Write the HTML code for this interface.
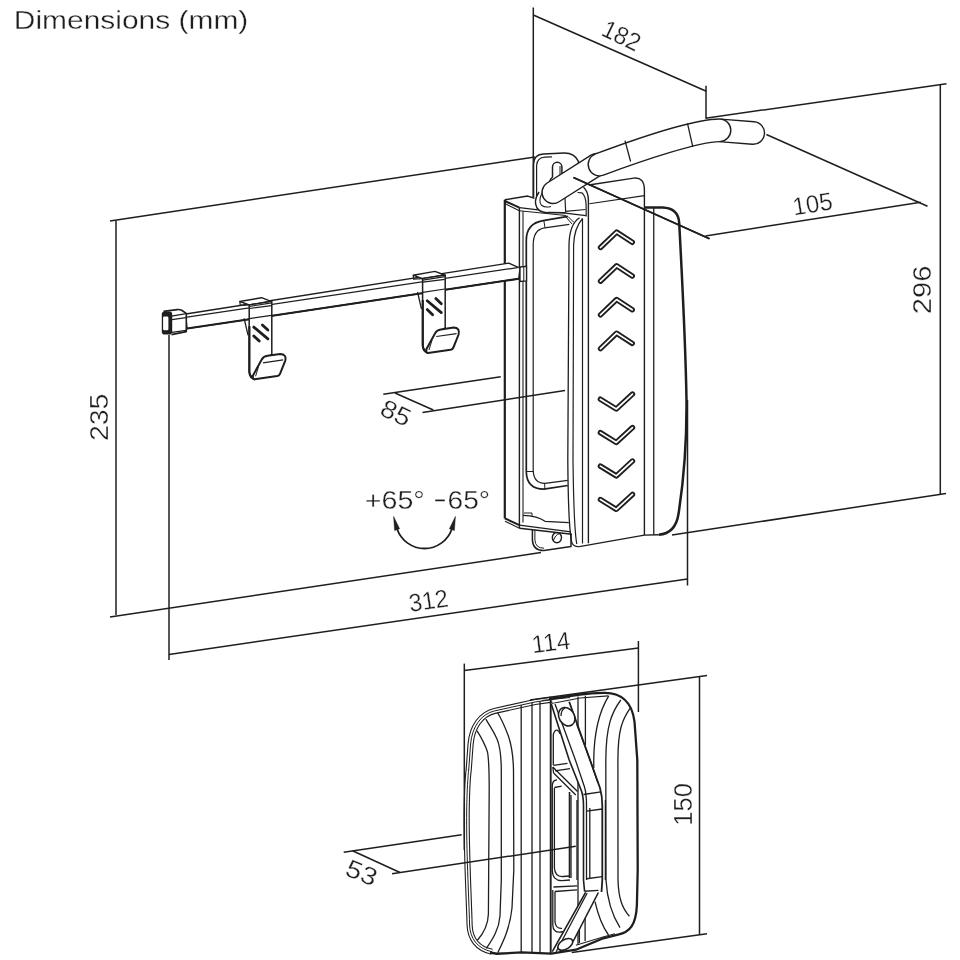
<!DOCTYPE html>
<html><head><meta charset="utf-8"><style>
html,body{margin:0;padding:0;background:#fff;width:960px;height:960px;overflow:hidden}
svg{display:block;filter:grayscale(1)}
text{font-family:"Liberation Sans",sans-serif;fill:#1e1e1e;stroke:#fff;stroke-width:0.3px}
</style></head><body>
<svg width="960" height="960" viewBox="0 0 960 960">
<rect width="960" height="960" fill="#fff"/>
<text x="13.8" y="29.2" font-size="25" textLength="234.5" lengthAdjust="spacingAndGlyphs">Dimensions (mm)</text>

<!-- MOUNT -->
<defs>
  <g id="chev">
<path transform="translate(616.6,232.10)" d="M-16.1 15.4 L0 0 L15.65 10.2"/>
<path transform="translate(616.6,265.80)" d="M-16.1 15.4 L0 0 L15.65 10.2"/>
<path transform="translate(616.6,299.50)" d="M-16.1 15.4 L0 0 L15.65 10.2"/>
<path transform="translate(616.6,333.20)" d="M-16.1 15.4 L0 0 L15.65 10.2"/>
<path transform="translate(616.3,409.00)" d="M-15.9 -9.8 L0 0 L16.2 -14.9"/>
<path transform="translate(616.3,442.45)" d="M-15.9 -9.8 L0 0 L16.2 -14.9"/>
<path transform="translate(616.3,475.90)" d="M-15.9 -9.8 L0 0 L16.2 -14.9"/>
<path transform="translate(616.3,509.35)" d="M-15.9 -9.8 L0 0 L16.2 -14.9"/>
  </g>
</defs>
<g id="mount" fill="none" stroke="#1e1e1e" stroke-width="1.4" stroke-linejoin="round">
  <!-- wall plate -->
  <path d="M533.5 197 L533.5 164 Q533.8 154.5 543.5 154 L564 153 Q574.5 152.8 578.5 161.5 L578.5 175" fill="#fff" stroke-width="1.5"/>
  <path d="M536.6 197 L536.6 165.5 Q537.2 157.6 545 157.2 L552 156.8" stroke-width="1.2"/>
  <path d="M549 183 Q550.5 178.5 552.5 177 L552.5 167 A4.7 4.7 0 0 1 561.9 167 L561.9 178" stroke-width="1.5"/>
  <path d="M560 166 L560 177" stroke-width="1"/>
  <!-- lower plate with hole -->
  <path d="M532.4 528 L532.4 540 Q533 550.8 544 550.6 L571 546.5 L571 530" fill="#fff" stroke-width="1.5"/>
  <path d="M534.9 529 L534.9 540 Q535.5 548.3 544 548.2" stroke-width="1"/>
  <ellipse cx="556.9" cy="537.6" rx="4.6" ry="5.1" stroke-width="1.4"/>
  <path d="M553.5 540.5 Q555 535 559.5 533.6" stroke-width="1"/>
  <!-- bracket body -->
  <path d="M504.8 199.8 L527.7 196.1 L540 199 L560 202 L586 216 L586 540 L572 534.2 L519.4 528.2 L504.8 521 Z" fill="#fff" stroke="none"/>
  <path d="M504.8 199.8 L504.8 518.5" stroke-width="2.2"/>
  <path d="M504.8 199.8 L527.7 196.1 L534.5 198.2" stroke-width="1.5"/>
  <path d="M504.8 201 L519.4 207.6" stroke-width="2"/>
  <path d="M504.8 203.6 L519.4 210.7" stroke-width="1.1"/>
  <path d="M519.4 207.6 L586 215.6" stroke-width="1.3"/>
  <path d="M519.4 210.7 L566 215.5" stroke-width="1.1"/>
  <path d="M519.4 207.6 L519.4 528.2"/>
  <path d="M523 211 L523 522.5" stroke-width="1.1"/>
  <path d="M504.8 518.3 L519.4 525.1" stroke-width="2"/>
  <path d="M505 521.2 L519.4 528.2" stroke-width="1.1"/>
  <path d="M519.4 525.1 L570.9 531.9"/>
  <path d="M519.4 528.2 L572 534.3"/>
  <path d="M523 515.3 Q538 515.8 545 521.3 L568.8 522.6" stroke-width="1.2"/>
  <path d="M524 513 L532 513 L532 517" stroke-width="1"/>
  <!-- inner C frame -->
  <path d="M567.9 216.4 L543.1 220.7 Q526.4 223.5 526.3 240 L526.3 472 Q526.8 489 543.8 489.2 L567.8 485.5" stroke-width="1.7"/>
  <path d="M569.4 224.4 L544.6 227.8 Q533.2 229.5 533.2 245 L533.2 470 Q533.5 483.5 545 483.4 L567.8 480.3" stroke-width="1.2"/>
  <path d="M543.9 221 L545 227.6 M526.8 471.5 L533 471.5 M544.6 483.5 L544.9 489" stroke-width="1"/>
  <path d="M566 217 L572 224 M568 216.5 L574 222.5" stroke-width="1"/>
  <!-- rail (curved strip) -->
  <path d="M579.6 217.8 Q569.4 224 569 245 L567.8 460 Q568.3 530 572 543 Q574 547 579.3 546.6" stroke-width="1.3"/>
  <path d="M582.5 218.5 Q574.2 228 573.6 245 L573 460 Q573.8 528 576.8 544" stroke-width="1.2"/>
  <!-- panel -->
  <path d="M582.2 189.2 Q586.5 186 590 185 L633.75 178.1 Q644.4 177 644.4 190 L644.4 535.1 L579.3 546.6 L588.4 543.3 Z" fill="none" stroke="none"/>
  <path d="M583.5 187.3 Q588.2 191.5 588.4 200 L588.4 543.3" stroke-width="1.4"/>
  <path d="M577.5 192.5 L581.9 192.8 Q585.8 196 586.1 205 L586.2 216.5" stroke-width="1.2"/>
  <path d="M565.6 211.3 L585.5 209.5" stroke-width="1.2"/>
  <path d="M582.5 218.5 L582.5 543.5" stroke-width="1.2"/>
  <path d="M588.8 185 L633.75 178.1 Q644.4 176.8 644.4 190 L644.4 535.1" stroke-width="1.4"/>
  <path d="M589.4 203.75 L644.4 195.6" stroke-width="1.2"/>
  <path d="M579.3 546.6 L644.4 535.1 L658.75 534.7" stroke-width="1.4"/>
  <!-- box -->
  <path d="M653.75 207.5 L653.75 534.7" stroke-width="1.3"/>
  <path d="M645 207.5 L662.5 207.5 Q678.3 208 679.2 223 C 682 275 685.5 340 686.5 400 C 686.8 440 683 485 678.5 514 Q675.5 533.5 658.75 534.7" stroke-width="2.5"/>
  <!-- chevrons -->
  <use href="#chev" stroke="#1e1e1e" stroke-width="5.4" stroke-linecap="round" stroke-linejoin="round"/>
  <use href="#chev" stroke="#fff" stroke-width="1.7" stroke-linecap="round" stroke-linejoin="round"/>
  <!-- pivot washer -->
  <path d="M539 192 Q533 201 537 208 Q541 213 548 212.6 L565 212.8" fill="#fff" stroke-width="1.5"/>
  <path d="M542 193 Q538 201.5 541.5 205.3 Q545 208 551 206.5" stroke-width="1.1"/>
  <path d="M565 198 L565.7 212.8" stroke-width="1.2"/>
  <!-- arm -->
  <g stroke-linecap="round" fill="none">
    <path d="M723 130.6 L753.2 133" stroke="#1e1e1e" stroke-width="24"/>
    <path d="M723 130.6 L753.2 133" stroke="#fff" stroke-width="21.2"/>
    <path d="M553.1 192.4 L597 164.5" stroke="#1e1e1e" stroke-width="23.6"/>
    <path d="M553.1 192.4 L597 164.5" stroke="#fff" stroke-width="20.8"/>
    <path d="M599.5 164.5 C 639.5 149.6, 697 130.3, 719.5 130.3" stroke="#1e1e1e" stroke-width="24"/>
    <path d="M599.5 164.5 C 639.5 149.6, 697 130.3, 719.5 130.3" stroke="#fff" stroke-width="21.2"/>
  </g>
  <path d="M625 140.6 L630.6 161.5 M687.5 123.4 L692.8 146.9" stroke-width="1.3"/>
</g>
<path d="M573.5 177.5 L709.5 238.8" fill="none" stroke="#1e1e1e" stroke-width="1.5"/>

<!-- ROD + HOOKS -->
<defs>
  <g id="hook">
    <!-- back strap sliver -->
    <path d="M417.5 292 L421.5 309" fill="none" stroke="#1e1e1e" stroke-width="1.3"/>
    <!-- sleeve top face -->
    <path d="M413.1 275.2 L435 271.4 L444.5 275 L422.6 278.6 Z" fill="#fff" stroke="#1e1e1e" stroke-width="1.4" stroke-linejoin="round"/>
    <path d="M413.3 275.2 L413.6 279 L422.6 278.6" fill="none" stroke="#1e1e1e" stroke-width="1.2"/>
    <!-- strap front -->
    <path d="M422.6 278.6 L445.2 275 L445.2 328 L436 333 L427 351 Q423 350 422.6 345 Z" fill="#fff" stroke="#1e1e1e" stroke-width="1.5" stroke-linejoin="round"/>
    <path d="M422.8 300 L422.8 346 Q423.2 352 428.5 353" fill="none" stroke="#1e1e1e" stroke-width="2.2"/>
    <path d="M422.8 280.2 L444.8 276.6 M422.8 282.2 L444.8 279.3 M422.8 292.3 L444.8 289" fill="none" stroke="#1e1e1e" stroke-width="1.2"/>
    <!-- tip -->
    <path d="M428 353 L450.5 349.8 Q452.6 349.4 453.4 347.5 L458.6 334.5 Q460.3 327.8 453.5 327.6 L441 329.4 Q436.6 330 435 333.4 L426.5 349 Q425.6 352.8 428 353 Z" fill="#fff" stroke="#1e1e1e" stroke-width="2" stroke-linejoin="round"/>
    <path d="M436.3 336.5 L456.6 333.6" fill="none" stroke="#1e1e1e" stroke-width="1.2"/>
    <path d="M429 350 L432 340" fill="none" stroke="#1e1e1e" stroke-width="1"/>
    <!-- hash marks -->
    <g stroke="#1e1e1e" stroke-width="2.8" stroke-linecap="round">
      <path d="M427.2 300.8 L441.3 312.6"/>
      <path d="M435.8 298.6 L441.3 303.8"/>
      <path d="M427.2 309.6 L432.6 314.8"/>
    </g>
  </g>
</defs>
<g>
  <!-- rod body -->
  <path d="M185.7 314 L508.75 263.1 L520 268.1 L518.75 278.75 L187 328.6 Z" fill="#fff" stroke="#1e1e1e" stroke-width="1.4" stroke-linejoin="round"/>
  <path d="M187 317.2 L517.5 267.6" fill="none" stroke="#1e1e1e" stroke-width="1.2"/>
  <path d="M187 328.6 L518.75 278.75" fill="none" stroke="#1e1e1e" stroke-width="2"/>
  <!-- collar at bracket -->
  <path d="M520 267 L526.5 266.3 L526.5 281 L520 281.5 Z" fill="#fff" stroke="#1e1e1e" stroke-width="1.3"/>
  <path d="M523.8 266.6 L523.8 281.2" stroke="#1e1e1e" stroke-width="1"/>
  <!-- endcap -->
  <path d="M163.5 311.4 L177.1 309.6 Q180 309.3 182 310.5 L186.3 313.4 L186.3 331.6 L171.5 334.6 L163 334 Z" fill="#fff" stroke="none"/>
  <path d="M163.5 311.4 L177.1 309.6 Q180 309.3 182 310.5 L186.3 313.4 L186.3 331.6 L171.5 334.6" fill="none" stroke="#1e1e1e" stroke-width="1.6" stroke-linejoin="round"/>
  <path d="M171.5 316.2 L186.3 313.6 M172 319.6 L186 317.6 M172 332.4 L186 330.4" fill="none" stroke="#1e1e1e" stroke-width="1.3"/>
  <rect x="161.8" y="311.4" width="10.4" height="23.1" rx="2.8" fill="#1e1e1e"/>
  <rect x="163.1" y="316.5" width="5.3" height="13.8" rx="1.3" fill="#fff"/>
  <use href="#hook"/>
  <use href="#hook" transform="translate(-173.4,26.3)"/>
</g>

<!-- ROTATION ARROW -->
<path d="M435.3 500.4 L444.7 500.4" stroke="#1e1e1e" stroke-width="1.7"/>
<g stroke="#1e1e1e" fill="#1e1e1e">
  <path d="M397.1 529 A29 29 0 0 0 451.9 529" fill="none" stroke-width="1.8"/>
  <path d="M393.6 516.5 L399.6 528.8 L394.6 530.4 Z" stroke-width="0.5"/>
  <path d="M455.4 516.5 L449.4 528.8 L454.4 530.4 Z" stroke-width="0.5"/>
</g>

<!-- BOTTOM DEVICE -->
<g id="device" fill="none" stroke="#1e1e1e" stroke-width="1.3" stroke-linejoin="round">
  <path d="M468.3 743.3 C469.5 728 478 714 492.5 709.2 L535 701.5 L580 694.5 Q592 692.8 605 692.9 C620 693 632 701 634.5 721.7 L637.3 760 L637.7 870 L636.9 905 C636 925 630 932 618 934.6 L603.3 938.3 L575.9 949.7 L551.25 953.6 L521.7 952.4 L496.7 953.75 C480 952 468.5 942 468 926.7 C465 890 463.8 820 465.8 770 Z" fill="#fff" stroke="none"/>
  <!-- triple left outline -->
  <path id="lo" d="M492 951.8 C477 948.5 470 938 469.6 925 C468.8 895 466.2 850 466.7 810 C467 790 468 775 468.7 770 L470.6 744 C472 727 481 714 494.6 710.9 L535 702 L552 699.6" stroke-width="6.2"/>
  <path d="M492 951.8 C477 948.5 470 938 469.6 925 C468.8 895 466.2 850 466.7 810 C467 790 468 775 468.7 770 L470.6 744 C472 727 481 714 494.6 710.9 L535 702 L552 699.6" stroke="#fff" stroke-width="4.0"/>
  <path d="M492 951.8 C477 948.5 470 938 469.6 925 C468.8 895 466.2 850 466.7 810 C467 790 468 775 468.7 770 L470.6 744 C472 727 481 714 494.6 710.9 L535 702 L552 699.6" stroke-width="1.0"/>
  <!-- main outline rest -->
  <path d="M549 699 L580 694.5 Q592 692.8 605 692.9 C620 693 632 701 634.5 721.7 L637.3 760 L637.7 870 L636.9 905 C636 925 630 932 618 934.6 L603.3 938.3 L575.9 949.7 L551.25 953.6 L521.7 952.4 L496.7 953.75 L490 952.5" stroke-width="2.3"/>
  <path d="M552 703.5 L580 698 L608.3 695.8" stroke-width="1.2"/>
  <path d="M575.9 945.2 L603 937 L615 933.7" stroke-width="1.1"/>
  <!-- left ridges -->
  <path d="M477.1 730.8 C481 737 485 744 487.5 752 C489 760 489.2 770 489.2 790 L488.4 914 C488 926 483 934 477.4 940.2"/>
  <path d="M485.8 719.2 C490 726 494 732 497 739 C500 746 501.2 755 501.3 770 L501.3 880 L500 916 C499 930 492 940 486.3 948.5"/>
  <path d="M497.5 712.5 C502 720 505 727 508.3 735.8 C511.5 745 513.2 755 513.5 770 L513.8 870 L512 908 C510 928 503 942 497.7 952.7"/>
  <!-- center verticals -->
  <path d="M521.2 705 L521.2 952.4 M532 703 L532 952.5 M540 701.5 L540 953"/>
  <path d="M550.7 700 L550.7 953.6" stroke-width="1.9"/>
  <path d="M578 696.5 L578 945 M585.4 695.8 L585.4 745"/>
  <!-- slots -->
  <path d="M553.3 765 L553.3 734.5 Q554.5 730 557 730.2 Q559.5 731 560 734"/>
  <path d="M553.3 765.4 L567.5 763.3 M555 770.8 L570 768.7"/>
  <path d="M557 779.8 Q552.3 780 552.3 786 L552.3 870 Q552.6 881 562 880.6 L570 880"/>
  <path d="M554.4 787.5 L561.7 786.1 M554.4 788 L554.4 868 Q555 877 563 876.5 L569.5 876"/>
  <path d="M569.5 792 L569.5 878" stroke-width="1.6"/>
  <path d="M577 800 L577 880 M571 795 L571 878"/>
  <path d="M553.5 887 L577.3 885.8 M552.8 890 L552.8 925 Q553 933 561 932 L571 931 M555 891.5 L577 889.8 M555 891.5 L555 922 Q556 929 562 928.4"/>
  <path d="M579.4 922 L579.4 943 M585.1 918 L585.1 941"/>
  <!-- strut -->
  <path d="M552.8 767 L577.5 791.5 M553.6 773 L575.8 795 M552.8 767 L553.6 773"/>
  <!-- strap -->
  <path d="M551.25 704 L569.2 701.7 L590 760 L600 788 Q602.3 796 602.3 806 L602.3 880 L601.5 892 L598.4 892.5 L573.1 941.5 L556 952 L552.3 951.7 L585.6 892.3 L583.5 880 L583.5 806 Q583.5 797 581.5 791 L569.2 760 Z" fill="#fff" stroke="none"/>
  <path d="M541.7 700.5 L570 697.5" stroke-width="1.2"/>
  <path d="M551.25 704 L569.2 760 L581.5 791 Q583.5 797 583.5 806 L583.5 880 L584.6 891.5" stroke-width="1.6"/>
  <path d="M555 704 L575.4 760 L584.5 787 Q586.5 794 586.5 805 L586.5 880"/>
  <path d="M569.2 701.7 L590 760 L600 788 Q602.3 796 602.3 806 L602.3 880 L601.5 892" stroke-width="1.8"/>
  <path d="M576.7 724.2 L590.5 761 L598 783"/>
  <path d="M589.8 808 L589.8 878 M605.4 800 L605.4 880"/>
  <path d="M583.5 794.5 L601 791.9 M586.5 811.1 L602.3 809 M586.7 878.75 L602.3 876.7"/>
  <path d="M585.6 892.3 L552.3 951.7" stroke-width="1.6"/>
  <path d="M587.2 893 L556 952"/>
  <path d="M598.4 892.5 L573.1 941.5" stroke-width="1.6"/>
  <path d="M584.6 891.25 L598.5 890.3"/>
  <ellipse cx="566.7" cy="716.7" rx="7.6" ry="9.8" transform="rotate(-32 566.7 716.7)" fill="#fff" stroke-width="1.6"/>
  <path d="M561 716 Q561 710 565 708" />
  <ellipse cx="565.3" cy="944.4" rx="8.3" ry="4.7" transform="rotate(-32 565.3 944.4)" fill="#fff" stroke-width="1.6"/>
  <!-- right ridges -->
  <path d="M608.75 695.8 C600 710 594 730 593.75 760 L593.8 768"/>
  <path d="M595 901.7 C598 915 602 926 608.5 935"/>
  <path d="M620.8 700 C612 712 606 725 605.8 760 L606 880 C607 898 612 915 620 927.7"/>
  <path d="M630 708.3 C622 720 618 730 617.9 760 L618 880 C618.5 898 622 908 629.4 916.25"/>
</g>

<!-- DIMENSION LINES -->
<g id="dims" fill="none" stroke="#1e1e1e" stroke-width="1.5" stroke-linecap="butt">
  <!-- 235 -->
  <path d="M110 221 L535 157"/>
  <path d="M116 221 L116 615"/>
  <path d="M110 617 L541 552.5"/>
  <!-- 312 -->
  <path d="M169 335 L169 660"/>
  <path d="M169 654.4 L687.5 579"/>
  <path d="M687.5 400 L687.5 585.5"/>
  <!-- 296 -->
  <path d="M672 535 L946 493.5"/>
  <path d="M705.5 118.2 L946.5 83.8"/>
  <path d="M940.3 84 L940.3 494"/>
  <!-- 182 -->
  <path d="M533.3 7.5 L533.3 197"/>
  <path d="M533.3 15 L706.3 91.3"/>
  <path d="M706 85.7 L706 118.2"/>
  <!-- 105 -->
  <path d="M766.4 134.5 L927.5 206.3"/>
  <path d="M573.5 177.5 L709.5 238.8"/>
  <path d="M705.4 236 L920.7 202.2"/>
  <!-- 85 -->
  <path d="M383.3 394.2 L500.8 376.7"/>
  <path d="M395 393 L433.3 410"/>
  <path d="M422.5 412.5 L565 390.6"/>
  <!-- 114 -->
  <path d="M464.3 663.6 L464.3 850"/>
  <path d="M464.2 670.6 L638.4 648.1"/>
  <path d="M638.4 641 L638.4 712"/>
  <!-- 150 -->
  <path d="M530 700 L707 675.4"/>
  <path d="M699.5 676.2 L699.5 934.5"/>
  <path d="M571.7 952.5 L707 933.8"/>
  <!-- 53 -->
  <path d="M343.7 852.2 L461.7 834.7"/>
  <path d="M352.5 850.8 L400 872.5"/>
  <path d="M392 873.7 L575.8 846.3"/>
</g>

<!-- DIMENSION TEXT -->
<g font-size="25" text-anchor="middle">
  <text transform="translate(621.6,35.2) rotate(25.5)" y="9" textLength="39.5" lengthAdjust="spacingAndGlyphs">182</text>
  <text transform="translate(812.4,203.5) rotate(-9)" y="9" textLength="40" lengthAdjust="spacingAndGlyphs">105</text>
  <text transform="translate(921.9,289.9) rotate(-90)" y="9" textLength="48.5" lengthAdjust="spacingAndGlyphs">296</text>
  <text transform="translate(98.6,417.3) rotate(-90)" y="9" textLength="47.5" lengthAdjust="spacingAndGlyphs">235</text>
  <text transform="translate(396.1,412.5) rotate(25)" y="9" textLength="30.5" lengthAdjust="spacingAndGlyphs">85</text>
  <text transform="translate(428.5,600.2) rotate(-8.5)" y="9" textLength="39.5" lengthAdjust="spacingAndGlyphs">312</text>
  <text transform="translate(550.8,642) rotate(-7)" y="9" textLength="38.5" lengthAdjust="spacingAndGlyphs">114</text>
  <text transform="translate(683,804.4) rotate(-90)" y="9" textLength="42.5" lengthAdjust="spacingAndGlyphs">150</text>
  <text transform="translate(361.8,872.4) rotate(22)" y="9" textLength="31.5" lengthAdjust="spacingAndGlyphs">53</text>
  <text x="394.8" y="508.5" textLength="60" lengthAdjust="spacingAndGlyphs">+65°</text>
  <text x="468.8" y="508.5" textLength="42.5" lengthAdjust="spacingAndGlyphs">65°</text>
</g>

</svg>
</body></html>
